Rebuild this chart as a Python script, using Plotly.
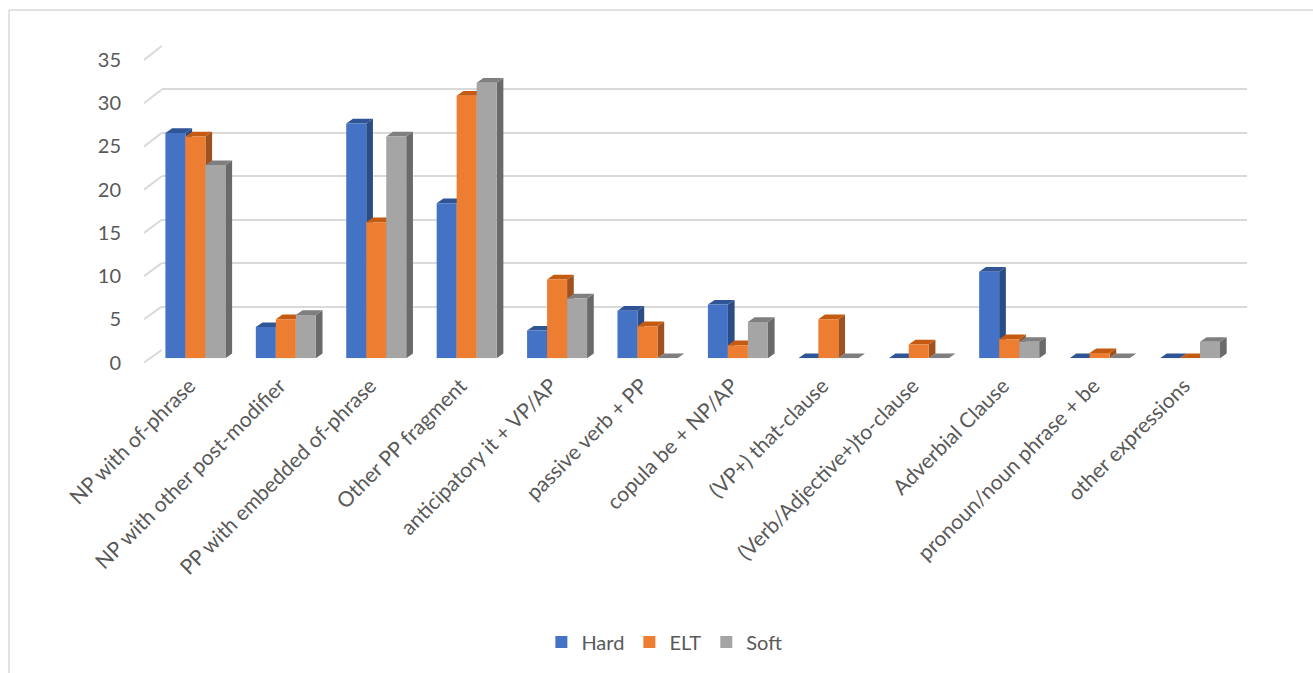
import plotly.graph_objects as go

categories = ["NP with of-phrase", "NP with other post-modifier", "PP with embedded of-phrase",
              "Other PP fragment", "anticipatory it + VP/AP", "passive verb + PP",
              "copula be + NP/AP", "(VP+) that-clause", "(Verb/Adjective+)to-clause",
              "Adverbial Clause", "pronoun/noun phrase + be", "other expressions"]
hard = [26.0, 3.6, 27.1, 17.9, 3.2, 5.5, 6.2, 0.0, 0.0, 10.0, 0.0, 0.0]
elt = [25.6, 4.5, 15.7, 30.3, 9.1, 3.7, 1.5, 4.5, 1.6, 2.2, 0.6, 0.0]
soft = [22.3, 5.0, 25.6, 31.8, 6.9, 0.0, 4.2, 0.0, 0.0, 1.9, 0.0, 1.9]
series_names = ["Hard", "ELT", "Soft"]
y_ticks = [0, 5, 10, 15, 20, 25, 30, 35]

W, H = 1313, 673
front_cols = ["#4472C4", "#ED7D31", "#A5A5A5"]
top_cols = ["#2F5597", "#C55A11", "#7F7F7F"]
side_cols = ["#2C4C86", "#A0521E", "#6A6A6A"]
FONT = "Lato"
TXT = "#595959"

def px(x):
    return x / W

def py(y):
    return 1 - y / H

# geometry (pixels)
bar_x0, bar_x1 = 150.2, 1235.2
bar_y0, bar_y35 = 358.3, 55.1
wall_x0, wall_x1 = 161.7, 1246.7
wall_y0, wall_y35 = 350.0, 46.0
front_x = 144.0
front_y0, front_y35 = 362.5, 60.0

ncat = len(categories)
unit_px = (bar_x1 - bar_x0) / ncat
w = 20.0 / unit_px
dx = 6.7 / unit_px
dy = 4.7 / ((bar_y0 - bar_y35) / 35.0)

fig = go.Figure()

# invisible anchors for wall and label subplots
fig.add_trace(go.Scatter(x=[None], y=[None], xaxis="x", yaxis="y", showlegend=False, hoverinfo="skip"))
fig.add_trace(go.Scatter(x=[None], y=[None], xaxis="x3", yaxis="y3", showlegend=False, hoverinfo="skip"))

shapes = []
all_series = [hard, elt, soft]
for k, (name, vals) in enumerate(zip(series_names, all_series)):
    xs = [i + (k - 1) * w for i in range(ncat)]
    fig.add_trace(go.Bar(x=xs, y=vals, width=w, name=name, xaxis="x2", yaxis="y2",
                         marker=dict(color=front_cols[k], line=dict(width=0)),
                         hoverinfo="skip"))
    for xc, v in zip(xs, vals):
        a = xc - w / 2
        b = xc + w / 2
        if v > 0:
            shapes.append(dict(type="path", xref="x2", yref="y2", layer="between",
                               path=f"M{b},0 L{b+dx},{dy} L{b+dx},{v+dy} L{b},{v} Z",
                               fillcolor=side_cols[k], line=dict(width=0)))
        shapes.append(dict(type="path", xref="x2", yref="y2", layer="between",
                           path=f"M{a},{v} L{b},{v} L{b+dx},{v+dy} L{a+dx},{v+dy} Z",
                           fillcolor=top_cols[k], line=dict(width=0)))

# diagonal tick stubs from front plane to back wall
for t in y_ticks:
    yf = front_y0 - t * (front_y0 - front_y35) / 35.0
    yb = wall_y0 - t * (wall_y0 - wall_y35) / 35.0
    shapes.append(dict(type="line", xref="paper", yref="paper",
                       x0=px(front_x), y0=py(yf), x1=px(wall_x0), y1=py(yb),
                       line=dict(color="#D9D9D9", width=2)))

# chart border
shapes.append(dict(type="line", xref="paper", yref="paper", x0=px(9), y0=py(10), x1=1, y1=py(10),
                   line=dict(color="#D9D9D9", width=1.5)))
shapes.append(dict(type="line", xref="paper", yref="paper", x0=px(9), y0=py(10), x1=px(9), y1=0,
                   line=dict(color="#D9D9D9", width=1.5)))

fig.update_layout(
    width=W, height=H,
    margin=dict(l=0, r=0, t=0, b=0, autoexpand=False),
    paper_bgcolor="white", plot_bgcolor="rgba(0,0,0,0)",
    barmode="overlay",
    font=dict(family=FONT, size=20, color=TXT),
    shapes=shapes,
    xaxis=dict(domain=[px(wall_x0), px(wall_x1)], range=[0, 1], anchor="y", automargin=False,
               showgrid=False, showticklabels=False, zeroline=False, showline=False, ticks=""),
    yaxis=dict(domain=[py(wall_y0), py(wall_y35)], range=[0, 35], anchor="x", automargin=False,
               tickvals=y_ticks, showgrid=True, gridcolor="#D9D9D9", gridwidth=2,
               showticklabels=False, zeroline=False, showline=False, ticks=""),
    xaxis2=dict(domain=[px(bar_x0), px(bar_x1)], range=[-0.5, ncat - 0.5], anchor="y2",
                automargin=False,
                tickvals=list(range(ncat)), ticktext=categories, tickangle=-45,
                tickfont=dict(family=FONT, size=21, color=TXT), ticklabelshift=-6,
                showgrid=False, zeroline=False, showline=False, ticks="outside",
                ticklen=6, tickcolor="rgba(0,0,0,0)"),
    yaxis2=dict(domain=[py(bar_y0), py(bar_y35)], range=[0, 35], anchor="x2", automargin=False,
                showgrid=False, showticklabels=False, zeroline=False, showline=False, ticks=""),
    xaxis3=dict(domain=[px(front_x), px(front_x + 1)], range=[0, 1], anchor="y3", visible=False,
                automargin=False),
    yaxis3=dict(domain=[py(front_y0), py(front_y35)], range=[0, 35], anchor="x3", automargin=False,
                tickvals=y_ticks, showgrid=False, zeroline=False, showline=False,
                ticks="outside", ticklen=18, tickcolor="rgba(0,0,0,0)",
                tickfont=dict(family=FONT, size=20, color=TXT)),
    legend=dict(orientation="h", x=0.506, xanchor="center", y=py(642), yanchor="middle",
                font=dict(family=FONT, size=20, color=TXT), bgcolor="rgba(0,0,0,0)",
                itemclick=False, itemdoubleclick=False),
)

fig.write_html("out.html")
